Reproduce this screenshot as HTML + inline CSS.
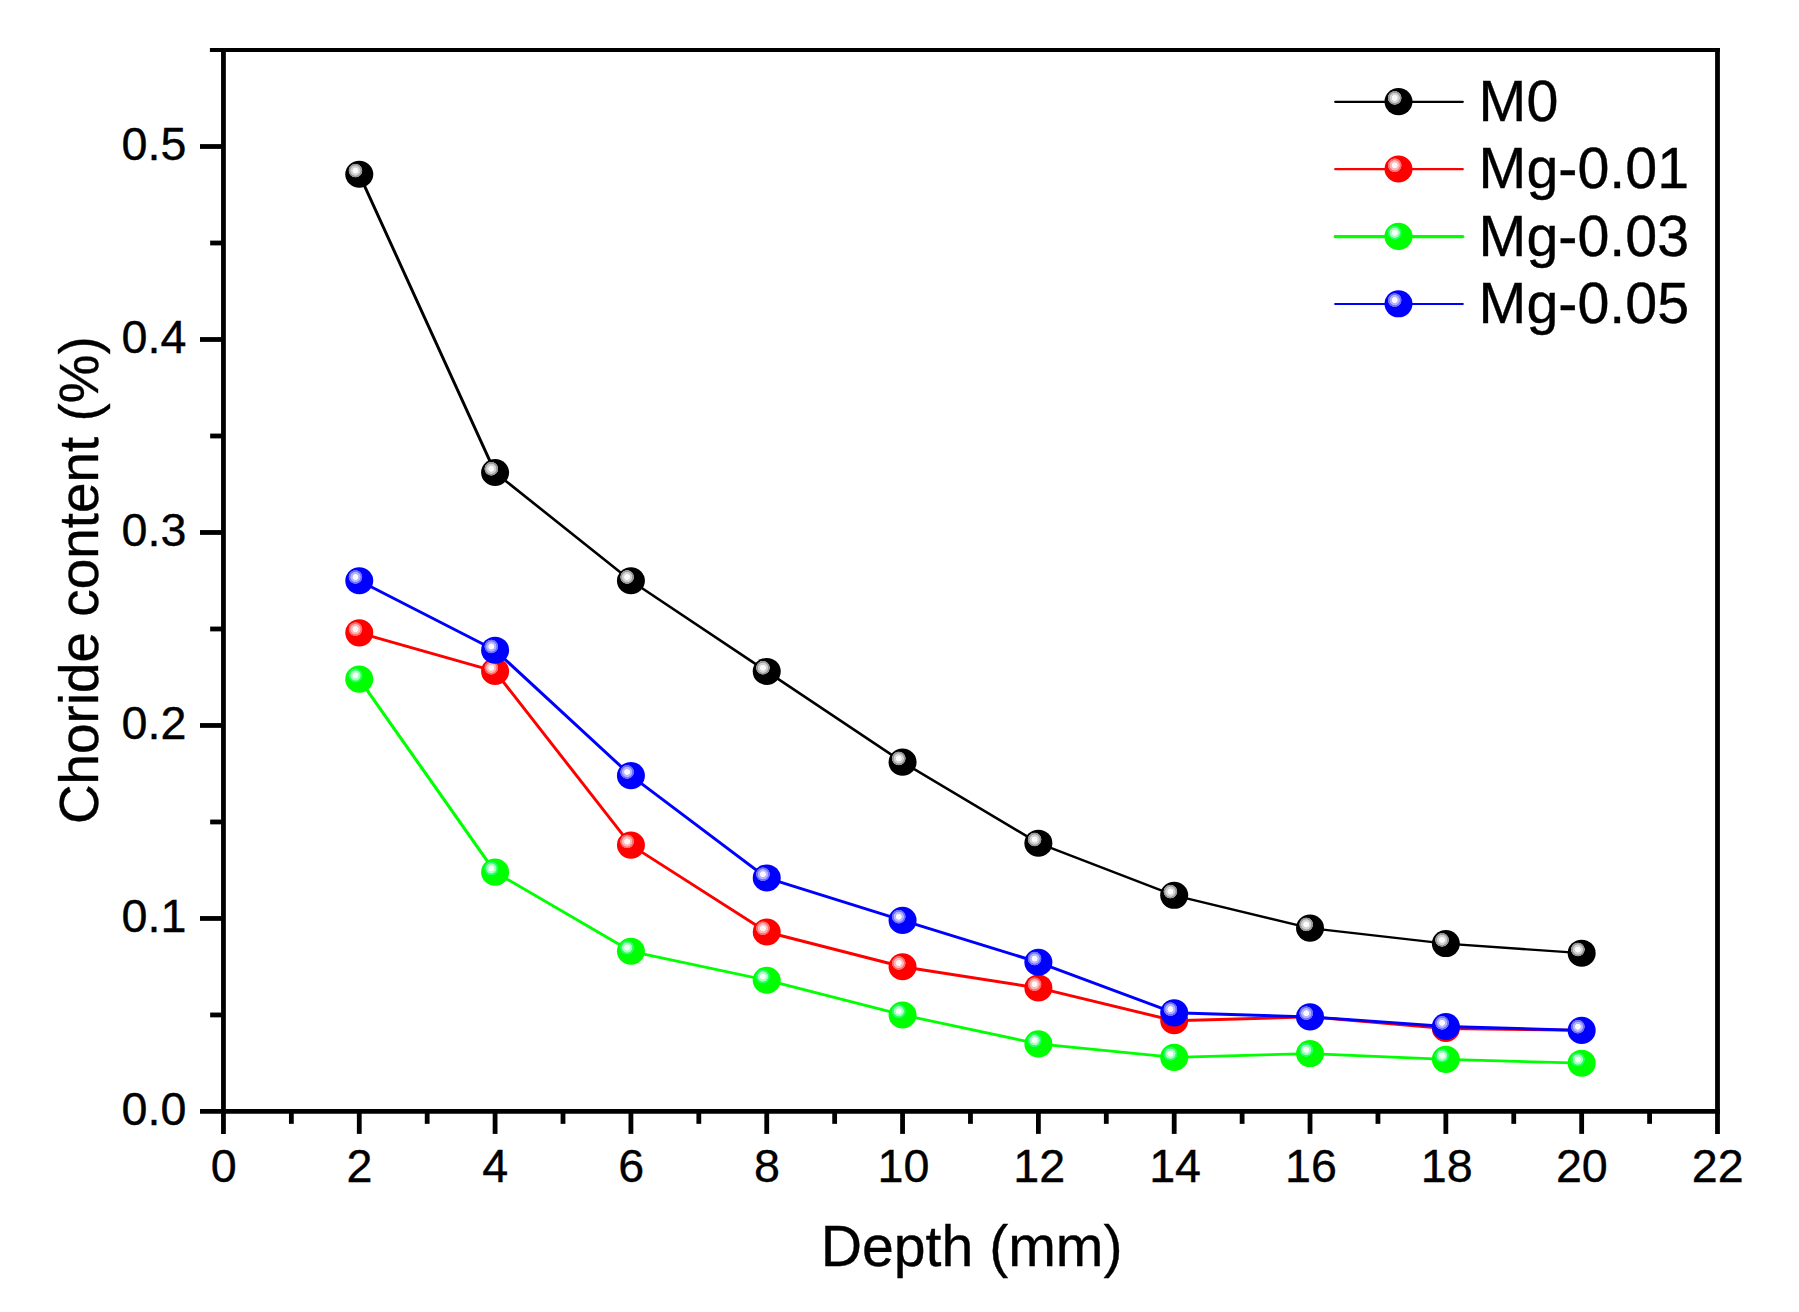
<!DOCTYPE html>
<html lang="en"><head><meta charset="utf-8"><title>Chloride content vs depth</title>
<style>html,body{margin:0;padding:0;background:#fff}svg{display:block}text{font-family:"Liberation Sans",sans-serif;fill:#000;stroke:#000;stroke-width:0.35px}</style>
</head><body>
<svg width="1799" height="1312" viewBox="0 0 1799 1312">
<rect width="1799" height="1312" fill="#fff"/>
<defs>
<radialGradient id="gk" cx="0.5" cy="0.5" r="0.5">
<stop offset="0" stop-color="#fcfcfc"/>
<stop offset="0.36" stop-color="#fcfcfc"/>
<stop offset="0.45" stop-color="#d2d2d2"/>
<stop offset="0.66" stop-color="#d2d2d2"/>
<stop offset="0.75" stop-color="#989898"/>
<stop offset="0.93" stop-color="#989898"/>
<stop offset="1" stop-color="#000000"/>
</radialGradient>
<radialGradient id="gr" cx="0.5" cy="0.5" r="0.5">
<stop offset="0" stop-color="#fff8f8"/>
<stop offset="0.36" stop-color="#fff8f8"/>
<stop offset="0.45" stop-color="#ffb8b8"/>
<stop offset="0.66" stop-color="#ffb8b8"/>
<stop offset="0.75" stop-color="#ff6e6e"/>
<stop offset="0.93" stop-color="#ff6e6e"/>
<stop offset="1" stop-color="#ff0000"/>
</radialGradient>
<radialGradient id="gg" cx="0.5" cy="0.5" r="0.5">
<stop offset="0" stop-color="#f8fff8"/>
<stop offset="0.36" stop-color="#f8fff8"/>
<stop offset="0.45" stop-color="#a8ffbc"/>
<stop offset="0.66" stop-color="#a8ffbc"/>
<stop offset="0.75" stop-color="#28ff70"/>
<stop offset="0.93" stop-color="#28ff70"/>
<stop offset="1" stop-color="#00ff00"/>
</radialGradient>
<radialGradient id="gb" cx="0.5" cy="0.5" r="0.5">
<stop offset="0" stop-color="#fafaff"/>
<stop offset="0.36" stop-color="#fafaff"/>
<stop offset="0.45" stop-color="#b4b4ff"/>
<stop offset="0.66" stop-color="#b4b4ff"/>
<stop offset="0.75" stop-color="#7070ff"/>
<stop offset="0.93" stop-color="#7070ff"/>
<stop offset="1" stop-color="#0000ff"/>
</radialGradient>
</defs>
<g stroke="#000" stroke-width="4.8" fill="none" stroke-linecap="butt">
<line x1="223.45" y1="47.9" x2="223.45" y2="1133.9"/>
<line x1="1717.5" y1="47.9" x2="1717.5" y2="1133.9"/>
<line x1="200.0" y1="1111.45" x2="1720" y2="1111.45"/>
<line x1="209.9" y1="49.9" x2="1720" y2="49.9" stroke-width="4.0"/>
<line x1="291.36" y1="1111.45" x2="291.36" y2="1123.85"/>
<line x1="359.27" y1="1111.45" x2="359.27" y2="1133.90"/>
<line x1="427.18" y1="1111.45" x2="427.18" y2="1123.85"/>
<line x1="495.09" y1="1111.45" x2="495.09" y2="1133.90"/>
<line x1="563.00" y1="1111.45" x2="563.00" y2="1123.85"/>
<line x1="630.92" y1="1111.45" x2="630.92" y2="1133.90"/>
<line x1="698.83" y1="1111.45" x2="698.83" y2="1123.85"/>
<line x1="766.74" y1="1111.45" x2="766.74" y2="1133.90"/>
<line x1="834.65" y1="1111.45" x2="834.65" y2="1123.85"/>
<line x1="902.56" y1="1111.45" x2="902.56" y2="1133.90"/>
<line x1="970.47" y1="1111.45" x2="970.47" y2="1123.85"/>
<line x1="1038.38" y1="1111.45" x2="1038.38" y2="1133.90"/>
<line x1="1106.29" y1="1111.45" x2="1106.29" y2="1123.85"/>
<line x1="1174.20" y1="1111.45" x2="1174.20" y2="1133.90"/>
<line x1="1242.12" y1="1111.45" x2="1242.12" y2="1123.85"/>
<line x1="1310.03" y1="1111.45" x2="1310.03" y2="1133.90"/>
<line x1="1377.94" y1="1111.45" x2="1377.94" y2="1123.85"/>
<line x1="1445.85" y1="1111.45" x2="1445.85" y2="1133.90"/>
<line x1="1513.76" y1="1111.45" x2="1513.76" y2="1123.85"/>
<line x1="1581.67" y1="1111.45" x2="1581.67" y2="1133.90"/>
<line x1="1649.58" y1="1111.45" x2="1649.58" y2="1123.85"/>
<line x1="223.45" y1="1014.96" x2="210.15" y2="1014.96"/>
<line x1="223.45" y1="918.46" x2="200.00" y2="918.46"/>
<line x1="223.45" y1="821.96" x2="210.15" y2="821.96"/>
<line x1="223.45" y1="725.47" x2="200.00" y2="725.47"/>
<line x1="223.45" y1="628.98" x2="210.15" y2="628.98"/>
<line x1="223.45" y1="532.48" x2="200.00" y2="532.48"/>
<line x1="223.45" y1="435.98" x2="210.15" y2="435.98"/>
<line x1="223.45" y1="339.49" x2="200.00" y2="339.49"/>
<line x1="223.45" y1="243.00" x2="210.15" y2="243.00"/>
<line x1="223.45" y1="146.50" x2="200.00" y2="146.50"/>
</g>
<g font-size="46.7">
<text transform="translate(223.65 1181.7) scale(1 0.98)" text-anchor="middle">0</text>
<text transform="translate(359.47 1181.7) scale(1 0.98)" text-anchor="middle">2</text>
<text transform="translate(495.29 1181.7) scale(1 0.98)" text-anchor="middle">4</text>
<text transform="translate(631.12 1181.7) scale(1 0.98)" text-anchor="middle">6</text>
<text transform="translate(766.94 1181.7) scale(1 0.98)" text-anchor="middle">8</text>
<text transform="translate(903.46 1181.7) scale(1 0.98)" text-anchor="middle">10</text>
<text transform="translate(1039.28 1181.7) scale(1 0.98)" text-anchor="middle">12</text>
<text transform="translate(1175.10 1181.7) scale(1 0.98)" text-anchor="middle">14</text>
<text transform="translate(1310.93 1181.7) scale(1 0.98)" text-anchor="middle">16</text>
<text transform="translate(1446.75 1181.7) scale(1 0.98)" text-anchor="middle">18</text>
<text transform="translate(1581.87 1181.7) scale(1 0.98)" text-anchor="middle">20</text>
<text transform="translate(1717.69 1181.7) scale(1 0.98)" text-anchor="middle">22</text>
<text transform="translate(186.5 1124.65) scale(1 0.98)" text-anchor="end">0.0</text>
<text transform="translate(186.5 931.66) scale(1 0.98)" text-anchor="end">0.1</text>
<text transform="translate(186.5 738.67) scale(1 0.98)" text-anchor="end">0.2</text>
<text transform="translate(186.5 545.68) scale(1 0.98)" text-anchor="end">0.3</text>
<text transform="translate(186.5 352.69) scale(1 0.98)" text-anchor="end">0.4</text>
<text transform="translate(186.5 159.70) scale(1 0.98)" text-anchor="end">0.5</text>
</g>
<text x="971.6" y="1265.9" font-size="57.2" text-anchor="middle">Depth (mm)</text>
<text transform="translate(97.6 580.2) rotate(-90)" font-size="54.85" text-anchor="middle">Choride content (%)</text>
<g stroke="#000000" stroke-linecap="round" fill="none">
<line x1="359.27" y1="174.29" x2="495.09" y2="472.46" stroke-width="2.96"/>
<line x1="495.09" y1="472.46" x2="630.92" y2="580.73" stroke-width="2.61"/>
<line x1="630.92" y1="580.73" x2="766.74" y2="671.43" stroke-width="2.55"/>
<line x1="766.74" y1="671.43" x2="902.56" y2="762.14" stroke-width="2.55"/>
<line x1="902.56" y1="762.14" x2="1038.38" y2="843.19" stroke-width="2.51"/>
<line x1="1038.38" y1="843.19" x2="1174.20" y2="895.30" stroke-width="2.40"/>
<line x1="1174.20" y1="895.30" x2="1310.03" y2="928.11" stroke-width="2.34"/>
<line x1="1310.03" y1="928.11" x2="1445.85" y2="943.55" stroke-width="2.31"/>
<line x1="1445.85" y1="943.55" x2="1581.67" y2="953.20" stroke-width="2.30"/>
</g>
<ellipse cx="359.27" cy="174.29" rx="14.0" ry="13.55" fill="#000000"/><circle cx="355.47" cy="170.59" r="7.2" fill="url(#gk)"/>
<ellipse cx="495.09" cy="472.46" rx="14.0" ry="13.55" fill="#000000"/><circle cx="491.29" cy="468.76" r="7.2" fill="url(#gk)"/>
<ellipse cx="630.92" cy="580.73" rx="14.0" ry="13.55" fill="#000000"/><circle cx="627.12" cy="577.03" r="7.2" fill="url(#gk)"/>
<ellipse cx="766.74" cy="671.43" rx="14.0" ry="13.55" fill="#000000"/><circle cx="762.94" cy="667.73" r="7.2" fill="url(#gk)"/>
<ellipse cx="902.56" cy="762.14" rx="14.0" ry="13.55" fill="#000000"/><circle cx="898.76" cy="758.44" r="7.2" fill="url(#gk)"/>
<ellipse cx="1038.38" cy="843.19" rx="14.0" ry="13.55" fill="#000000"/><circle cx="1034.58" cy="839.49" r="7.2" fill="url(#gk)"/>
<ellipse cx="1174.20" cy="895.30" rx="14.0" ry="13.55" fill="#000000"/><circle cx="1170.40" cy="891.60" r="7.2" fill="url(#gk)"/>
<ellipse cx="1310.03" cy="928.11" rx="14.0" ry="13.55" fill="#000000"/><circle cx="1306.23" cy="924.41" r="7.2" fill="url(#gk)"/>
<ellipse cx="1445.85" cy="943.55" rx="14.0" ry="13.55" fill="#000000"/><circle cx="1442.05" cy="939.85" r="7.2" fill="url(#gk)"/>
<ellipse cx="1581.67" cy="953.20" rx="14.0" ry="13.55" fill="#000000"/><circle cx="1577.87" cy="949.50" r="7.2" fill="url(#gk)"/>
<g stroke="#ff0000" stroke-linecap="round" fill="none">
<line x1="359.27" y1="632.83" x2="495.09" y2="671.43" stroke-width="2.95"/>
<line x1="495.09" y1="671.43" x2="630.92" y2="845.12" stroke-width="2.95"/>
<line x1="630.92" y1="845.12" x2="766.74" y2="931.97" stroke-width="2.95"/>
<line x1="766.74" y1="931.97" x2="902.56" y2="966.71" stroke-width="2.95"/>
<line x1="902.56" y1="966.71" x2="1038.38" y2="987.94" stroke-width="2.95"/>
<line x1="1038.38" y1="987.94" x2="1174.20" y2="1020.74" stroke-width="2.95"/>
<line x1="1174.20" y1="1020.74" x2="1310.03" y2="1016.88" stroke-width="2.95"/>
<line x1="1310.03" y1="1016.88" x2="1445.85" y2="1028.46" stroke-width="2.95"/>
<line x1="1445.85" y1="1028.46" x2="1581.67" y2="1030.39" stroke-width="2.95"/>
</g>
<ellipse cx="359.27" cy="632.83" rx="14.0" ry="13.55" fill="#ff0000"/><circle cx="355.47" cy="629.13" r="7.2" fill="url(#gr)"/>
<ellipse cx="495.09" cy="671.43" rx="14.0" ry="13.55" fill="#ff0000"/><circle cx="491.29" cy="667.73" r="7.2" fill="url(#gr)"/>
<ellipse cx="630.92" cy="845.12" rx="14.0" ry="13.55" fill="#ff0000"/><circle cx="627.12" cy="841.42" r="7.2" fill="url(#gr)"/>
<ellipse cx="766.74" cy="931.97" rx="14.0" ry="13.55" fill="#ff0000"/><circle cx="762.94" cy="928.27" r="7.2" fill="url(#gr)"/>
<ellipse cx="902.56" cy="966.71" rx="14.0" ry="13.55" fill="#ff0000"/><circle cx="898.76" cy="963.01" r="7.2" fill="url(#gr)"/>
<ellipse cx="1038.38" cy="987.94" rx="14.0" ry="13.55" fill="#ff0000"/><circle cx="1034.58" cy="984.24" r="7.2" fill="url(#gr)"/>
<ellipse cx="1174.20" cy="1020.74" rx="14.0" ry="13.55" fill="#ff0000"/><circle cx="1170.40" cy="1017.04" r="7.2" fill="url(#gr)"/>
<ellipse cx="1310.03" cy="1016.88" rx="13.3" ry="12.850000000000001" fill="#ff0000"/><circle cx="1306.23" cy="1013.18" r="7.2" fill="url(#gr)"/>
<ellipse cx="1445.85" cy="1028.46" rx="14.0" ry="13.55" fill="#ff0000"/><circle cx="1442.05" cy="1024.76" r="7.2" fill="url(#gr)"/>
<ellipse cx="1581.67" cy="1030.39" rx="13.3" ry="12.850000000000001" fill="#ff0000"/><circle cx="1577.87" cy="1026.69" r="7.2" fill="url(#gr)"/>
<g stroke="#00ff00" stroke-linecap="round" fill="none">
<line x1="359.27" y1="679.15" x2="495.09" y2="872.14" stroke-width="3.13"/>
<line x1="495.09" y1="872.14" x2="630.92" y2="951.27" stroke-width="2.93"/>
<line x1="630.92" y1="951.27" x2="766.74" y2="980.22" stroke-width="2.82"/>
<line x1="766.74" y1="980.22" x2="902.56" y2="1014.96" stroke-width="2.83"/>
<line x1="902.56" y1="1014.96" x2="1038.38" y2="1043.90" stroke-width="2.82"/>
<line x1="1038.38" y1="1043.90" x2="1174.20" y2="1057.41" stroke-width="2.80"/>
<line x1="1174.20" y1="1057.41" x2="1310.03" y2="1053.55" stroke-width="2.80"/>
<line x1="1310.03" y1="1053.55" x2="1445.85" y2="1059.34" stroke-width="2.80"/>
<line x1="1445.85" y1="1059.34" x2="1581.67" y2="1063.20" stroke-width="2.80"/>
</g>
<ellipse cx="359.27" cy="679.15" rx="14.0" ry="13.55" fill="#00ff00"/><circle cx="355.47" cy="675.45" r="7.2" fill="url(#gg)"/>
<ellipse cx="495.09" cy="872.14" rx="14.0" ry="13.55" fill="#00ff00"/><circle cx="491.29" cy="868.44" r="7.2" fill="url(#gg)"/>
<ellipse cx="630.92" cy="951.27" rx="14.0" ry="13.55" fill="#00ff00"/><circle cx="627.12" cy="947.57" r="7.2" fill="url(#gg)"/>
<ellipse cx="766.74" cy="980.22" rx="14.0" ry="13.55" fill="#00ff00"/><circle cx="762.94" cy="976.52" r="7.2" fill="url(#gg)"/>
<ellipse cx="902.56" cy="1014.96" rx="14.0" ry="13.55" fill="#00ff00"/><circle cx="898.76" cy="1011.25" r="7.2" fill="url(#gg)"/>
<ellipse cx="1038.38" cy="1043.90" rx="14.0" ry="13.55" fill="#00ff00"/><circle cx="1034.58" cy="1040.20" r="7.2" fill="url(#gg)"/>
<ellipse cx="1174.20" cy="1057.41" rx="14.0" ry="13.55" fill="#00ff00"/><circle cx="1170.40" cy="1053.71" r="7.2" fill="url(#gg)"/>
<ellipse cx="1310.03" cy="1053.55" rx="14.0" ry="13.55" fill="#00ff00"/><circle cx="1306.23" cy="1049.85" r="7.2" fill="url(#gg)"/>
<ellipse cx="1445.85" cy="1059.34" rx="14.0" ry="13.55" fill="#00ff00"/><circle cx="1442.05" cy="1055.64" r="7.2" fill="url(#gg)"/>
<ellipse cx="1581.67" cy="1063.20" rx="14.0" ry="13.55" fill="#00ff00"/><circle cx="1577.87" cy="1059.50" r="7.2" fill="url(#gg)"/>
<g stroke="#0000ff" stroke-linecap="round" fill="none">
<line x1="359.27" y1="580.73" x2="495.09" y2="650.20" stroke-width="2.95"/>
<line x1="495.09" y1="650.20" x2="630.92" y2="775.65" stroke-width="2.95"/>
<line x1="630.92" y1="775.65" x2="766.74" y2="877.93" stroke-width="2.95"/>
<line x1="766.74" y1="877.93" x2="902.56" y2="920.39" stroke-width="2.95"/>
<line x1="902.56" y1="920.39" x2="1038.38" y2="962.27" stroke-width="2.95"/>
<line x1="1038.38" y1="962.27" x2="1174.20" y2="1012.83" stroke-width="2.95"/>
<line x1="1174.20" y1="1012.83" x2="1310.03" y2="1016.88" stroke-width="2.95"/>
<line x1="1310.03" y1="1016.88" x2="1445.85" y2="1026.53" stroke-width="2.95"/>
<line x1="1445.85" y1="1026.53" x2="1581.67" y2="1030.39" stroke-width="2.95"/>
</g>
<ellipse cx="359.27" cy="580.73" rx="14.0" ry="13.55" fill="#0000ff"/><circle cx="355.47" cy="577.03" r="7.2" fill="url(#gb)"/>
<ellipse cx="495.09" cy="650.20" rx="14.0" ry="13.55" fill="#0000ff"/><circle cx="491.29" cy="646.50" r="7.2" fill="url(#gb)"/>
<ellipse cx="630.92" cy="775.65" rx="14.0" ry="13.55" fill="#0000ff"/><circle cx="627.12" cy="771.95" r="7.2" fill="url(#gb)"/>
<ellipse cx="766.74" cy="877.93" rx="14.0" ry="13.55" fill="#0000ff"/><circle cx="762.94" cy="874.23" r="7.2" fill="url(#gb)"/>
<ellipse cx="902.56" cy="920.39" rx="14.0" ry="13.55" fill="#0000ff"/><circle cx="898.76" cy="916.69" r="7.2" fill="url(#gb)"/>
<ellipse cx="1038.38" cy="962.27" rx="14.0" ry="13.55" fill="#0000ff"/><circle cx="1034.58" cy="958.57" r="7.2" fill="url(#gb)"/>
<ellipse cx="1174.20" cy="1012.83" rx="14.0" ry="13.55" fill="#0000ff"/><circle cx="1170.40" cy="1009.13" r="7.2" fill="url(#gb)"/>
<ellipse cx="1310.03" cy="1016.88" rx="14.0" ry="13.55" fill="#0000ff"/><circle cx="1306.23" cy="1013.18" r="7.2" fill="url(#gb)"/>
<ellipse cx="1445.85" cy="1026.53" rx="14.0" ry="13.55" fill="#0000ff"/><circle cx="1442.05" cy="1022.83" r="7.2" fill="url(#gb)"/>
<ellipse cx="1581.67" cy="1030.39" rx="14.0" ry="13.55" fill="#0000ff"/><circle cx="1577.87" cy="1026.69" r="7.2" fill="url(#gb)"/>
<line x1="1335.2" y1="101.80" x2="1462.8" y2="101.80" stroke="#000000" stroke-width="2.2" stroke-linecap="round"/>
<ellipse cx="1398.50" cy="101.60" rx="14.0" ry="13.55" fill="#000000"/><circle cx="1394.70" cy="97.90" r="7.2" fill="url(#gk)"/>
<text x="1478.6" y="120.70" font-size="57.4">M0</text>
<line x1="1335.2" y1="169.20" x2="1462.8" y2="169.20" stroke="#ff0000" stroke-width="2.2" stroke-linecap="round"/>
<ellipse cx="1398.50" cy="169.00" rx="14.0" ry="13.55" fill="#ff0000"/><circle cx="1394.70" cy="165.30" r="7.2" fill="url(#gr)"/>
<text x="1478.6" y="188.10" font-size="57.4">Mg-0.01</text>
<line x1="1335.2" y1="236.60" x2="1462.8" y2="236.60" stroke="#00ff00" stroke-width="3.2" stroke-linecap="round"/>
<ellipse cx="1398.50" cy="236.40" rx="14.0" ry="13.55" fill="#00ff00"/><circle cx="1394.70" cy="232.70" r="7.2" fill="url(#gg)"/>
<text x="1478.6" y="255.50" font-size="57.4">Mg-0.03</text>
<line x1="1335.2" y1="304.00" x2="1462.8" y2="304.00" stroke="#0000ff" stroke-width="2.2" stroke-linecap="round"/>
<ellipse cx="1398.50" cy="303.80" rx="14.0" ry="13.55" fill="#0000ff"/><circle cx="1394.70" cy="300.10" r="7.2" fill="url(#gb)"/>
<text x="1478.6" y="322.90" font-size="57.4">Mg-0.05</text>
</svg>
</body></html>
